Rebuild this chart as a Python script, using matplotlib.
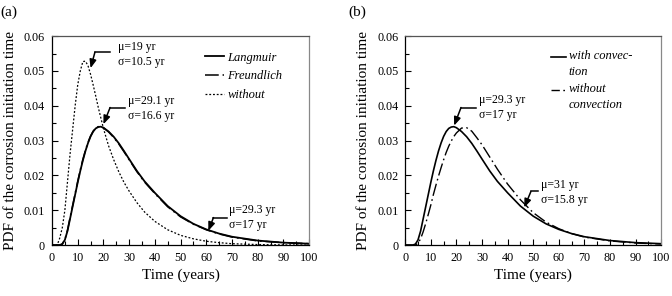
import numpy as np
import matplotlib.pyplot as plt
from matplotlib.ticker import MultipleLocator

plt.rcParams['font.family'] = ['Liberation Serif', 'DejaVu Serif']

# time axis (years)
t = [0, 1, 2, 3, 4, 5, 6, 7, 8, 9, 10, 11, 12, 13, 14, 15, 16, 17, 18, 19, 20,
     22, 24, 26, 28, 30, 33, 36, 40, 45, 50, 55, 60, 65, 70, 80, 90, 100]

langmuir = [0, 0, 0, 0, 0.0003, 0.0015, 0.004, 0.0075, 0.011, 0.0145, 0.018,
            0.0213, 0.0243, 0.027, 0.0293, 0.0312, 0.0326, 0.0335, 0.0339, 0.034,
            0.0337, 0.0326, 0.0311, 0.0292, 0.027, 0.0247, 0.0213, 0.0183, 0.015,
            0.0112, 0.0083, 0.0061, 0.0045, 0.0033, 0.0024, 0.0013, 0.0007, 0.0004]

freundlich = [0, 0, 0, 0, 0.0003, 0.0016, 0.0042, 0.0078, 0.0113, 0.0148, 0.0183,
              0.0216, 0.0246, 0.0272, 0.0295, 0.0313, 0.0327, 0.0336, 0.034, 0.034,
              0.0337, 0.0325, 0.0309, 0.029, 0.0268, 0.0245, 0.0211, 0.0181, 0.0148,
              0.011, 0.0081, 0.006, 0.0044, 0.0032, 0.0023, 0.0012, 0.0007, 0.0004]

without = [0, 0, 0, 0.002, 0.005, 0.010, 0.018, 0.026, 0.033, 0.040, 0.046,
           0.050, 0.0527, 0.0528, 0.0515, 0.049, 0.046, 0.0428, 0.0395, 0.0365,
           0.0335, 0.0285, 0.0245, 0.021, 0.018, 0.0155, 0.0122, 0.0095, 0.0068,
           0.0044, 0.0028, 0.0018, 0.0011, 0.0007, 0.0004, 0.00015, 0.00005, 0]

with_conv = langmuir
without_conv = [0, 0, 0, 0, 0, 0.0005, 0.0018, 0.0038, 0.0062, 0.0088, 0.0115,
                0.0145, 0.0172, 0.0198, 0.0222, 0.0245, 0.0266, 0.0284, 0.0299,
                0.0312, 0.0322, 0.0336, 0.0337, 0.0327, 0.0308, 0.0288, 0.0253,
                0.0218, 0.0175, 0.013, 0.0093, 0.0066, 0.0047, 0.0033, 0.0023,
                0.0012, 0.0006, 0.0003]

dashdot = (0, (9, 2.5, 1.2, 2.5))

fig = plt.figure(figsize=(6.72, 2.96), dpi=100)
axa = fig.add_axes([0.0774, 0.172, 0.3826, 0.706])
axb = fig.add_axes([0.603, 0.172, 0.381, 0.706])


def style(ax):
    ax.set_xlim(0, 100)
    ax.set_ylim(0, 0.06)
    ax.xaxis.set_major_locator(MultipleLocator(10))
    ax.xaxis.set_minor_locator(MultipleLocator(5))
    ax.yaxis.set_minor_locator(MultipleLocator(0.005))
    ax.set_yticks([0, 0.01, 0.02, 0.03, 0.04, 0.05, 0.06])
    ax.set_yticklabels(['0', '0.01', '0.02', '0.03', '0.04', '0.05', '0.06'])
    ax.tick_params(which='both', direction='in', length=4, width=0.8,
                   labelsize=8.7, pad=5)
    ax.tick_params(which='minor', length=3)
    for s in ax.spines.values():
        s.set_linewidth(0.9)
    ax.spines['right'].set_color('#888888')
    ax.spines['top'].set_color('#555555')
    ax.set_xlabel('Time (years)', fontsize=11, labelpad=3)
    ax.set_ylabel('PDF of the corrosion initiation time', fontsize=11, labelpad=5)


def note(ax, text, tx, ty, x0, x1, yl, xt, yt):
    ax.text(tx, ty, text, fontsize=8.5, va='center', ha='left', linespacing=1.35)
    ax.plot([x0, x1], [yl, yl], color='black', lw=1.1)
    ax.annotate('', xy=(xt, yt), xytext=(x1, yl),
                arrowprops=dict(arrowstyle='-|>,head_length=0.5,head_width=0.2',
                                color='black', lw=1.1, shrinkA=0, shrinkB=0))


# panel (a)
axa.plot(t, freundlich, color='black', lw=1.1, ls=dashdot, label='Freundlich')
axa.plot(t, langmuir, color='black', lw=1.3, label='Langmuir')
axa.plot(t, without, color='black', lw=0.9, ls=(0, (1.5, 1.5)), label='without')
style(axa)
h, l = axa.get_legend_handles_labels()
axa.legend([h[1], h[0], h[2]], [l[1], l[0], l[2]], loc='upper right',
           bbox_to_anchor=(0.94, 0.98), frameon=False, handlelength=1.5,
           handletextpad=0.3, labelspacing=0.55, prop={'style': 'italic', 'size': 9})
note(axa, 'μ=19 yr\nσ=10.5 yr', 25.5, 0.0547, 22.6, 16.7, 0.0554, 15.0, 0.0508)
note(axa, 'μ=29.1 yr\nσ=16.6 yr', 29.5, 0.0392, 28.4, 22.6, 0.0395, 20.0, 0.0347)
note(axa, 'μ=29.3 yr\nσ=17 yr', 69.0, 0.0080, 68.0, 62.8, 0.0079, 60.8, 0.0041)
fig.text(0.0, 0.96, '(a)', fontsize=11, va='center')

# panel (b)
axb.plot(t, with_conv, color='black', lw=1.2)
axb.plot(t, without_conv, color='black', lw=1.0, ls=dashdot)
style(axb)
# legend drawn by hand so the key sits beside the first line of each label
tr = axb.transAxes
axb.plot([0.57, 0.628], [0.90, 0.90], transform=tr, color='black', lw=1.2)
axb.plot([0.57, 0.628], [0.742, 0.742], transform=tr, color='black', lw=1.0,
         ls=(0, (6, 2.5, 1.2, 2.5)))
axb.text(0.638, 0.90, 'with convec-\ntion', transform=tr, fontsize=9,
         style='italic', va='top', ha='left', linespacing=1.45,
         position=(0.638, 0.935))
axb.text(0.638, 0.777, 'without\nconvection', transform=tr, fontsize=9,
         style='italic', va='top', ha='left', linespacing=1.45)
note(axb, 'μ=29.3 yr\nσ=17 yr', 28.9, 0.0396, 27.6, 21.8, 0.0395, 19.1, 0.0343)
note(axb, 'μ=31 yr\nσ=15.8 yr', 53.0, 0.0150, 52.0, 49.1, 0.0154, 46.5, 0.0108)
fig.text(0.519, 0.96, '(b)', fontsize=11, va='center')

fig.savefig('out.png', dpi=100)
